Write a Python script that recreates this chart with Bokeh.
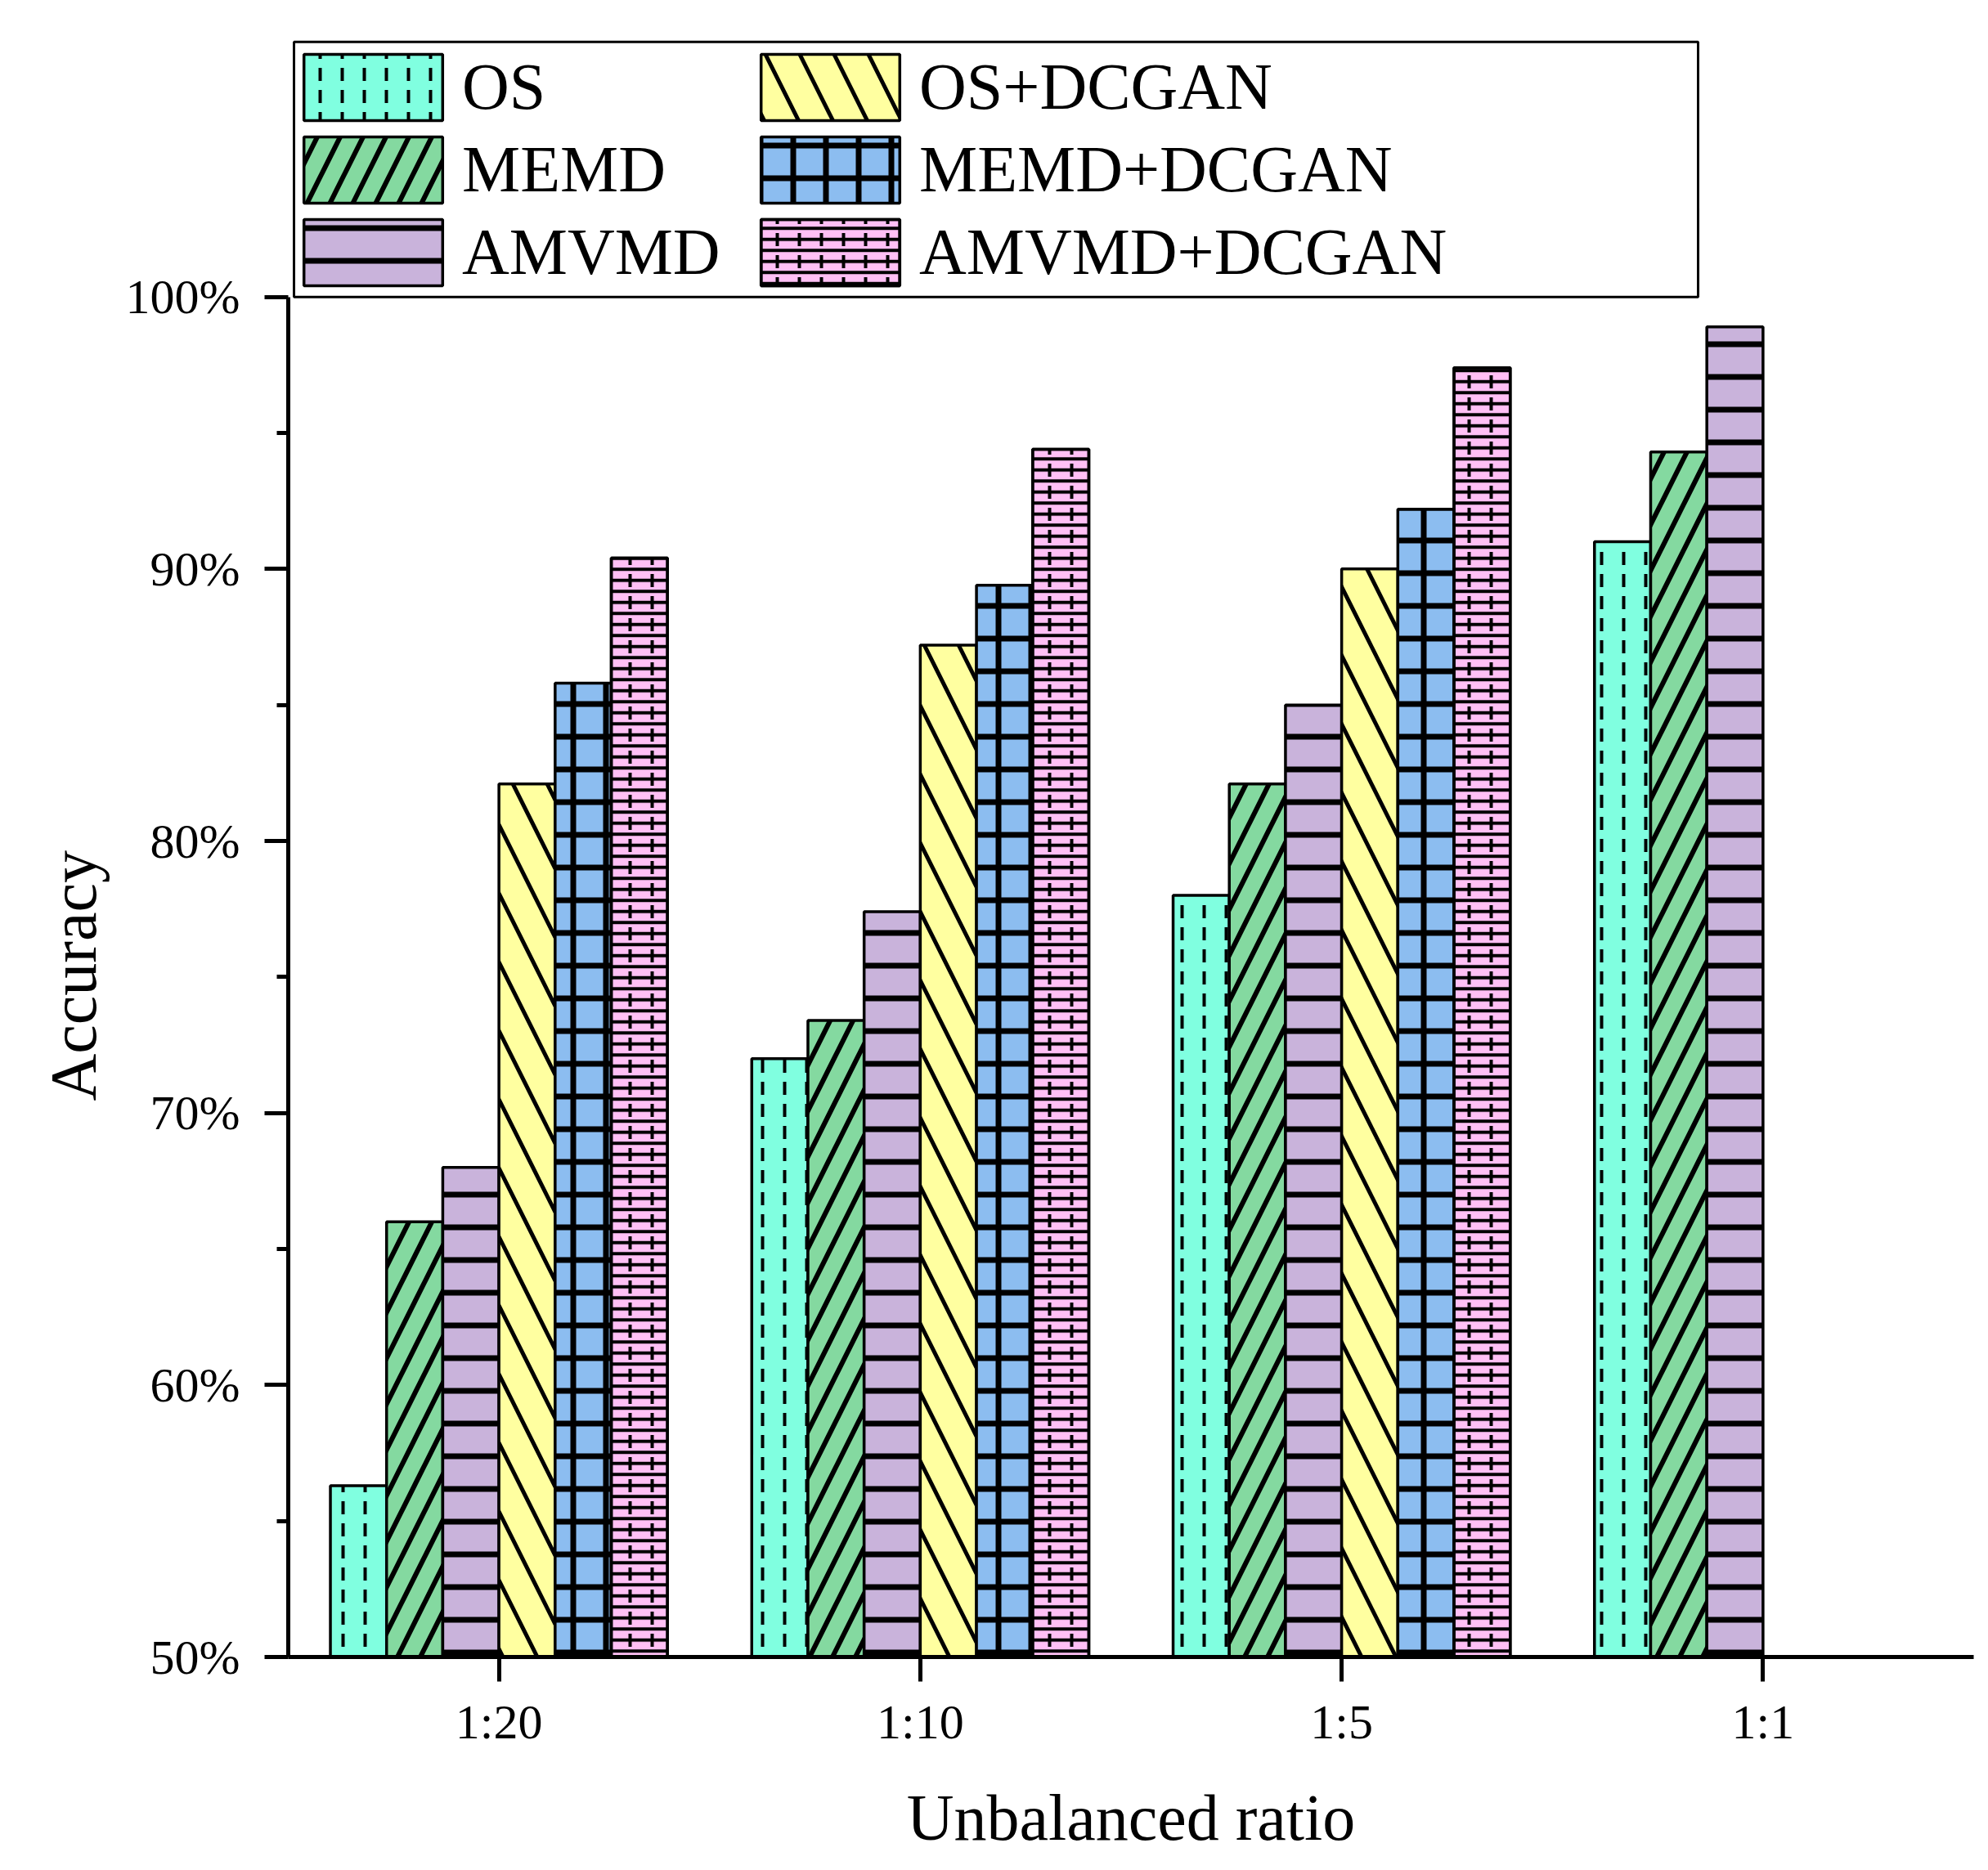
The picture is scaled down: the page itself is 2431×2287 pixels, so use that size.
from bokeh.plotting import figure
from bokeh.models import (FactorRange, Range1d, LinearAxis, FixedTicker,
                          PrintfTickFormatter, Legend, LegendItem, BoxAnnotation,
                          ColumnDataSource, Title)
from bokeh.transform import dodge
from bokeh.embed import file_html
from bokeh.resources import INLINE

# data (accuracy in %)
ratios = ["1:20", "1:10", "1:5", "1:1"]
methods = ["OS", "MEMD", "AMVMD", "OS+DCGAN", "MEMD+DCGAN", "AMVMD+DCGAN"]

os_acc = [56.3, 72.0, 78.0, 91.0]
memd_acc = [66.0, 73.4, 82.1, 94.3]
amvmd_acc = [68.0, 77.4, 85.0, 98.9]
os_dcgan_acc = [82.1, 87.2, 90.0, None]
memd_dcgan_acc = [85.8, 89.4, 92.2, None]
amvmd_dcgan_acc = [90.4, 94.4, 97.4, None]

y_ticks = [50, 60, 70, 80, 90, 100]
y_minor = [55, 65, 75, 85, 95]

series = [os_acc, memd_acc, amvmd_acc, os_dcgan_acc, memd_dcgan_acc, amvmd_dcgan_acc]

# fill colour and hatch layers (pattern, scale, weight) per method
styles = {
    "OS": ("#80FFE0", [("vertical_dash", 27, 4)]),
    "MEMD": ("#84D9A0", [("right_diagonal_line", 56, 6)]),
    "AMVMD": ("#C9B3DB", [("horizontal_line", 40, 7)]),
    "OS+DCGAN": ("#FFFFA0", [("left_diagonal_line", 84, 5)]),
    "MEMD+DCGAN": ("#8CBDF0", [("cross", 40, 7)]),
    "AMVMD+DCGAN": ("#FFC0F5", [("horizontal_line", 13.5, 4), ("vertical_dash", 27, 4)]),
}

FONT = "Liberation Serif"

p = figure(width=2415, height=2271,
           x_range=FactorRange(factors=ratios, range_padding=0),
           y_range=Range1d(50, 109.7), y_axis_type=None,
           output_backend="svg", toolbar_location=None,
           min_border_left=352, min_border_right=2,
           min_border_top=40, min_border_bottom=245)
p.outline_line_color = None
p.xgrid.visible = False


def style_axis(ax):
    ax.axis_line_width = 5
    ax.major_tick_line_width = 5
    ax.minor_tick_line_width = 5
    ax.major_tick_in = 0
    ax.minor_tick_in = 0
    ax.major_label_text_font = FONT
    ax.major_label_text_font_size = "60px"
    ax.major_label_text_color = "black"
    ax.axis_label_text_font = FONT
    ax.axis_label_text_font_size = "80px"
    ax.axis_label_text_font_style = "normal"
    ax.axis_label_text_color = "black"


yaxis = LinearAxis(ticker=FixedTicker(ticks=y_ticks, minor_ticks=y_minor),
                   formatter=PrintfTickFormatter(format="%d%%"),
                   bounds=(y_ticks[0], y_ticks[-1]))
style_axis(yaxis)
yaxis.major_tick_out = 29
yaxis.minor_tick_out = 14
yaxis.major_label_standoff = 30
p.add_layout(yaxis, "left")

# y title: sits beside the 50%-100% span (the frame above it holds the legend)
p.add_layout(Title(text="Accuracy", align="left", offset=680, standoff=33,
                   text_font=FONT, text_font_size="80px",
                   text_font_style="normal", text_color="black"), "left")

xaxis = p.xaxis[0]
xaxis.axis_label = "Unbalanced ratio"
style_axis(xaxis)
xaxis.major_tick_out = 30
xaxis.major_label_standoff = 16
xaxis.axis_label_standoff = 37
xaxis.major_label_orientation = "horizontal"

bar_w = 0.8 / len(methods)
legend_items = []
for i, (name, vals) in enumerate(zip(methods, series)):
    src = ColumnDataSource(dict(
        ratio=[r for r, v in zip(ratios, vals) if v is not None],
        acc=[v for v in vals if v is not None]))
    fill, hatches = styles[name]
    rs = []
    for j, (pat, sc, wt) in enumerate(hatches):
        r = p.vbar(x=dodge("ratio", (i - 2.5) * bar_w, range=p.x_range), top="acc",
                   bottom=y_ticks[0], width=bar_w, source=src,
                   fill_color=fill if j == 0 else None,
                   line_color="black", line_width=3.5,
                   hatch_pattern=pat, hatch_scale=sc, hatch_weight=wt,
                   hatch_color="black")
        rs.append(r)
    legend_items.append(LegendItem(label=name, renderers=rs))

common = dict(orientation="vertical", glyph_width=212, glyph_height=101,
              spacing=0, padding=0, label_standoff=3, margin=0,
              border_line_color=None, background_fill_alpha=0,
              label_text_font=FONT, label_text_font_size="80px",
              label_text_color="black")
leg1 = Legend(items=legend_items[:3], location=(-2, 1667), **common)
leg2 = Legend(items=legend_items[3:], location=(557, 1667), **common)
p.add_layout(leg1, "center")
p.add_layout(leg2, "center")

# frame around the legend
p.add_layout(BoxAnnotation(left=0.0136, right=3.346, bottom=100, top=109.38,
                           fill_color=None, fill_alpha=0,
                           line_color="black", line_alpha=1, line_width=3))

open("out.html", "w").write(file_html(p, INLINE))
